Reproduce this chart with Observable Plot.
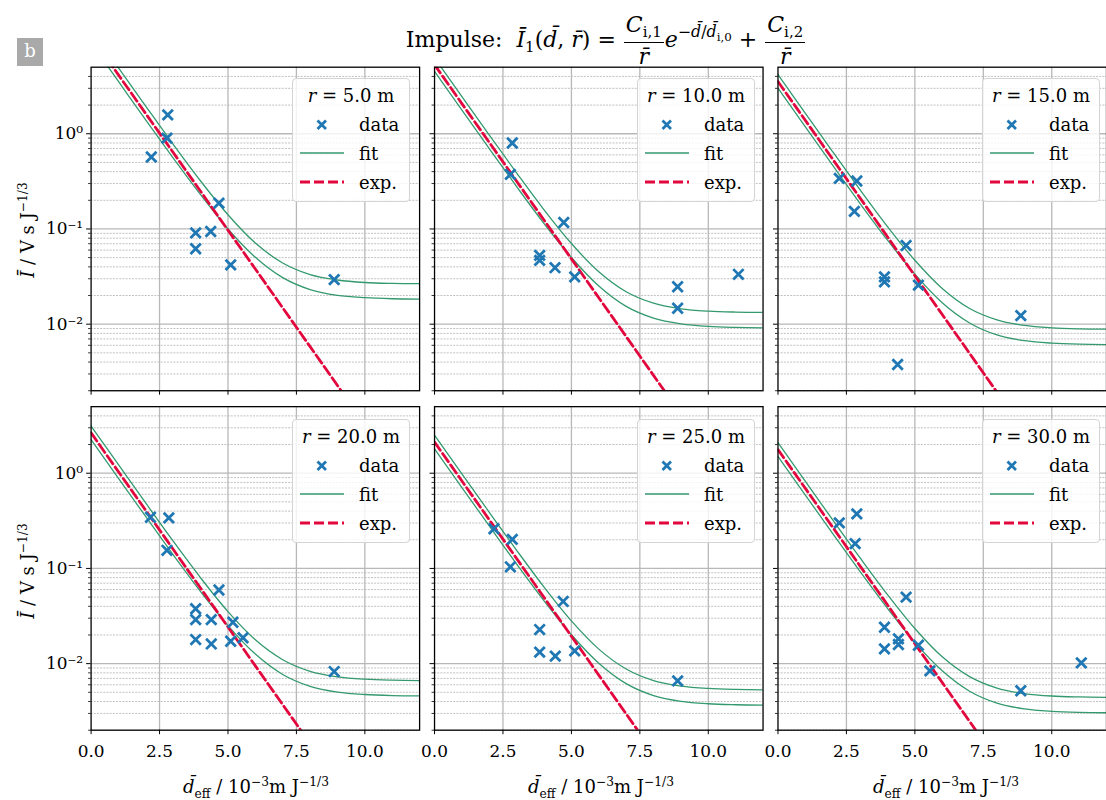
<!DOCTYPE html>
<html>
<head>
<meta charset="utf-8">
<script src="https://cdn.jsdelivr.net/npm/d3@7"></script>
<script src="https://cdn.jsdelivr.net/npm/@observablehq/plot@0.6"></script>
<style>
  html, body { margin: 0; padding: 0; background: #fff; overflow: hidden; }
  #wrap { position: relative; width: 1106px; height: 800px; overflow: hidden; font-family: "DejaVu Serif", serif; color: #000; }
  #chart { position: absolute; left: 0; top: 0; }
  .ov { position: absolute; white-space: nowrap; }
  #title { left: 0; width: 1212px; text-align: center; top: 14px; font-size: 22px; line-height: 1; }
  .frac { display: inline-block; vertical-align: middle; text-align: center; margin: 0 1px; }
  .frac .n { display: block; border-bottom: 1.4px solid #000; padding: 0 2px 6px 2px; line-height: 1; }
  .frac .d { display: block; line-height: 1; padding-top: 3px; }
  sup, sub { font-size: 0.68em; line-height: 0; }
  .sup2 { font-size: 0.72em; vertical-align: 0.65em; }
  #badge { left: 17px; top: 38px; width: 26px; height: 28px; background: #a9a9a9; color: #fff; font-size: 18px; line-height: 26px; text-align: center; }
  .ylab { font-size: 18px; line-height: 1; transform: translate(-50%, -50%) rotate(-90deg); }
  .xlab { font-size: 18px; line-height: 1; transform: translateX(-50%); }
  .legend { background: rgba(255,255,255,0.82); border: 1px solid #d4d4d4; border-radius: 4px; box-sizing: border-box; }
  .legend svg { display: block; font-family: "DejaVu Serif", serif; font-size: 18px; }
</style>
</head>
<body>
<div id="wrap">
  <div id="chart"></div>
</div>
<script>
// ---------------- data ----------------
const radii = [5, 10, 15, 20, 25, 30];

const pointsR5  = [[2.20,0.57],[2.77,0.90],[2.80,1.58],[3.82,0.091],[3.82,0.062],[4.37,0.094],[4.67,0.187],[5.10,0.042],[8.88,0.0294]];
const pointsR10 = [[2.77,0.374],[2.84,0.80],[3.84,0.0528],[3.84,0.0468],[4.40,0.0392],[4.72,0.117],[5.12,0.0314],[8.88,0.0247],[8.88,0.0147],[11.10,0.0334]];
const pointsR15 = [[2.24,0.340],[2.88,0.319],[2.79,0.153],[3.89,0.0314],[3.89,0.0278],[4.37,0.00377],[4.68,0.067],[5.13,0.0257],[8.87,0.0123]];
const pointsR20 = [[2.17,0.345],[2.84,0.340],[2.77,0.155],[3.82,0.0377],[3.82,0.0290],[3.82,0.0179],[4.39,0.0290],[4.39,0.0161],[4.67,0.0594],[5.10,0.0172],[5.18,0.0272],[5.55,0.0187],[8.88,0.00826]];
const pointsR25 = [[2.17,0.261],[2.84,0.202],[2.77,0.104],[3.84,0.0228],[3.84,0.0132],[4.41,0.0120],[4.70,0.0450],[5.12,0.0136],[8.88,0.00660]];
const pointsR30 = [[2.24,0.301],[2.88,0.374],[2.82,0.182],[3.89,0.0241],[3.89,0.0143],[4.40,0.0182],[4.40,0.0159],[4.68,0.0499],[5.13,0.0156],[5.55,0.00839],[8.87,0.00519],[11.08,0.0102]];

// fit band curves sampled at these d values
const fitX = [0, 1, 2, 3, 4, 5, 6, 7, 8, 9, 10, 11, 12];
const fitUpperR5  = [12.5, 4.91, 1.94, 0.774, 0.319, 0.141, 0.0711, 0.0439, 0.0332, 0.0291, 0.0274, 0.0268, 0.0266];
const fitLowerR5  = [9.02, 3.54, 1.39, 0.556, 0.229, 0.100, 0.0504, 0.0308, 0.0231, 0.0201, 0.0190, 0.0185, 0.0183];
const fitUpperR10 = [6.26, 2.46, 0.969, 0.387, 0.159, 0.0703, 0.0355, 0.0219, 0.0166, 0.0145, 0.0137, 0.0134, 0.0133];
const fitLowerR10 = [4.51, 1.77, 0.697, 0.278, 0.114, 0.0502, 0.0252, 0.0154, 0.0116, 0.0101, 0.00948, 0.00925, 0.00916];
const fitUpperR15 = [4.18, 1.64, 0.646, 0.258, 0.106, 0.0469, 0.0237, 0.0146, 0.0111, 0.00969, 0.00915, 0.00893, 0.00885];
const fitLowerR15 = [3.01, 1.18, 0.465, 0.185, 0.0762, 0.0335, 0.0168, 0.0103, 0.00771, 0.00671, 0.00632, 0.00616, 0.00611];
const fitUpperR20 = [3.13, 1.23, 0.484, 0.193, 0.0797, 0.0352, 0.0178, 0.0110, 0.00831, 0.00727, 0.00686, 0.00670, 0.00664];
const fitLowerR20 = [2.25, 0.884, 0.349, 0.139, 0.0572, 0.0251, 0.0126, 0.00770, 0.00578, 0.00503, 0.00474, 0.00462, 0.00458];
const fitUpperR25 = [2.51, 0.983, 0.388, 0.155, 0.0637, 0.0281, 0.0142, 0.00878, 0.00665, 0.00582, 0.00549, 0.00536, 0.00531];
const fitLowerR25 = [1.80, 0.707, 0.279, 0.111, 0.0457, 0.0201, 0.0101, 0.00616, 0.00462, 0.00402, 0.00379, 0.00370, 0.00366];
const fitUpperR30 = [2.09, 0.819, 0.323, 0.129, 0.0531, 0.0234, 0.0118, 0.00731, 0.00554, 0.00485, 0.00457, 0.00447, 0.00443];
const fitLowerR30 = [1.50, 0.590, 0.232, 0.0927, 0.0381, 0.0167, 0.00840, 0.00513, 0.00385, 0.00335, 0.00316, 0.00308, 0.00305];

// pure exponential (straight on log axis): values at d = 0 and d = 12
const expX = [0, 12];
const expR5  = [10.6, 0.000136];
const expR10 = [5.3, 0.0000677];
const expR15 = [3.53, 0.0000451];
const expR20 = [2.65, 0.0000339];
const expR25 = [2.12, 0.0000271];
const expR30 = [1.77, 0.0000226];

const xTicks = [0, 2.5, 5, 7.5, 10];
const xGridTicks = [2.5, 5, 7.5, 10];
const yMajorTicks = [0.01, 0.1, 1];
const yTickLabels = ["10\u207B\u00B2", "10\u207B\u00B9", "10\u2070"];
const yMinorTicks = [0.002,0.003,0.004,0.005,0.006,0.007,0.008,0.009,
                     0.02,0.03,0.04,0.05,0.06,0.07,0.08,0.09,
                     0.2,0.3,0.4,0.5,0.6,0.7,0.8,0.9,
                     2,3,4];

// ---------------- tables ----------------
const pointSets = [pointsR5, pointsR10, pointsR15, pointsR20, pointsR25, pointsR30];
const upperSets = [fitUpperR5, fitUpperR10, fitUpperR15, fitUpperR20, fitUpperR25, fitUpperR30];
const lowerSets = [fitLowerR5, fitLowerR10, fitLowerR15, fitLowerR20, fitLowerR25, fitLowerR30];
const expSets = [expR5, expR10, expR15, expR20, expR25, expR30];

const points = pointSets.flatMap((pts, i) => pts.map(([x, y]) => ({col: i % 3, row: Math.floor(i / 3), x, y})));
const fitRows = radii.flatMap((r, i) => [
  ...fitX.map((x, j) => ({col: i % 3, row: Math.floor(i / 3), band: "upper", x, y: upperSets[i][j]})),
  ...fitX.map((x, j) => ({col: i % 3, row: Math.floor(i / 3), band: "lower", x, y: lowerSets[i][j]}))
]);
const expRows = radii.flatMap((r, i) => expX.map((x, j) => ({col: i % 3, row: Math.floor(i / 3), x, y: expSets[i][j]})));
const yLabelOf = d => yTickLabels[yMajorTicks.findIndex(t => Math.abs(t - d) < 1e-9)];

// ---------------- colours ----------------
const BLUE = "#1f77b4", GREEN = "#33996e", RED = "#e2073d";

// ---------------- layout ----------------
const W = 1111, H = 800, ML = 91, MT = 67, MB = 67;
const padX = 15 / 345, padY = 16 / 341;

const chart = Plot.plot({
  width: W, height: H,
  marginLeft: ML, marginRight: 0, marginTop: MT, marginBottom: MB,
  style: {fontFamily: "'DejaVu Serif', serif", fontSize: "17px", color: "#000", background: "transparent"},
  fx: {domain: [0, 1, 2], axis: null, paddingInner: padX, paddingOuter: 0, round: false},
  fy: {domain: [0, 1], axis: null, paddingInner: padY, paddingOuter: 0, round: false},
  x: {domain: [0, 12]},
  y: {type: "log", domain: [0.002, 5]},
  marks: [
    Plot.gridY(yMinorTicks, {stroke: "#a6a6a6", strokeOpacity: 1, strokeWidth: 0.7, strokeDasharray: "2,1.2"}),
    Plot.gridY(yMajorTicks, {stroke: "#b8b8b8", strokeOpacity: 1, strokeWidth: 1.3}),
    Plot.gridX(xGridTicks, {stroke: "#b8b8b8", strokeOpacity: 1, strokeWidth: 1.3}),
    Plot.line(fitRows, {x: "x", y: "y", z: "band", fx: "col", fy: "row", stroke: GREEN, strokeWidth: 1.3, curve: "monotone-x", clip: true}),
    Plot.line(expRows, {x: "x", y: "y", fx: "col", fy: "row", stroke: RED, strokeWidth: 2.8, strokeDasharray: "10,4", clip: true}),
    Plot.dot(points, {x: "x", y: "y", fx: "col", fy: "row", symbol: "times", r: 4.8, stroke: BLUE, strokeWidth: 2.8}),
    Plot.frame({stroke: "#000", strokeWidth: 1.3}),
    // tick marks on every panel
    Plot.axisX(xTicks, {tickSize: 4.5, tickFormat: () => "", label: null, facetAnchor: null, stroke: "#000", strokeWidth: 1}),
    Plot.axisY(yMajorTicks, {tickSize: 4.5, tickFormat: () => "", label: null, facetAnchor: null, stroke: "#000", strokeWidth: 1}),
    Plot.axisY(yMinorTicks, {tickSize: 2.5, tickFormat: () => "", label: null, facetAnchor: null, stroke: "#000", strokeWidth: 0.8}),
    // tick labels on outer panels
    Plot.axisX(xTicks, {tickSize: 0, tickPadding: 15, tickFormat: d => d.toFixed(1), label: null, facetAnchor: "bottom"}),
    Plot.axisY(yMajorTicks, {tickSize: 0, tickPadding: 8, tickFormat: yLabelOf, label: null, facetAnchor: "left"})
  ]
});
document.getElementById("chart").appendChild(chart);

// ---------------- overlays: title, badge, axis labels, legends ----------------
const wrap = document.getElementById("wrap");
function addDiv(cls, html, style) {
  const d = document.createElement("div");
  d.className = "ov " + cls;
  d.innerHTML = html;
  Object.assign(d.style, style || {});
  wrap.appendChild(d);
  return d;
}

const dbar = "<i>d\u0304</i>";
const rbar = "<i>r\u0304</i>";
addDiv("", `Impulse:&nbsp; <i>\u012A</i><sub>1</sub>(${dbar}, ${rbar}) = ` +
  `<span class="frac"><span class="n"><i>C</i><sub>i,1</sub></span><span class="d">${rbar}</span></span>` +
  `<i>e</i><span class="sup2">\u2212${dbar}/${dbar}<sub style="font-size:0.75em">i,0</sub></span> + ` +
  `<span class="frac"><span class="n"><i>C</i><sub>i,2</sub></span><span class="d">${rbar}</span></span>`, {}).id = "title";

addDiv("", "b", {}).id = "badge";

const panelStepX = 345, panelStepY = 341, panelW = 330;
for (let row = 0; row < 2; row++) {
  addDiv("ylab", `<i>\u012A</i> / V s J<sup>\u22121/3</sup>`, {left: "28px", top: (MT + row * panelStepY + 162.5) + "px"});
}
for (let col = 0; col < 3; col++) {
  addDiv("xlab", `${dbar}<sub>eff</sub> / 10<sup>\u22123</sup>m J<sup>\u22121/3</sup>`, {left: (ML + col * panelStepX + panelW / 2) + "px", top: "778px"});
}

radii.forEach((r, i) => {
  const col = i % 3, row = Math.floor(i / 3);
  const right = ML + col * panelStepX + panelW - 11;
  const top = MT + row * panelStepY + 11;
  const lw = 118, lh = 124;
  addDiv("legend",
    `<svg width="${lw - 2}" height="${lh - 2}">
      <text x="${(lw - 2) / 2}" y="23" text-anchor="middle"><tspan font-style="italic">r</tspan> = ${r.toFixed(1)} m</text>
      <path d="M24.5,41.5 L33,50 M24.5,50 L33,41.5" stroke="${BLUE}" stroke-width="2.8" fill="none"/>
      <text x="66" y="52">data</text>
      <line x1="7" x2="51" y1="74" y2="74" stroke="${GREEN}" stroke-width="1.3"/>
      <text x="66" y="81">fit</text>
      <line x1="7" x2="51" y1="103" y2="103" stroke="${RED}" stroke-width="2.8" stroke-dasharray="10,4"/>
      <text x="66" y="110">exp.</text>
    </svg>`,
    {left: (right - lw) + "px", top: top + "px", width: lw + "px", height: lh + "px"});
});
</script>
</body>
</html>
